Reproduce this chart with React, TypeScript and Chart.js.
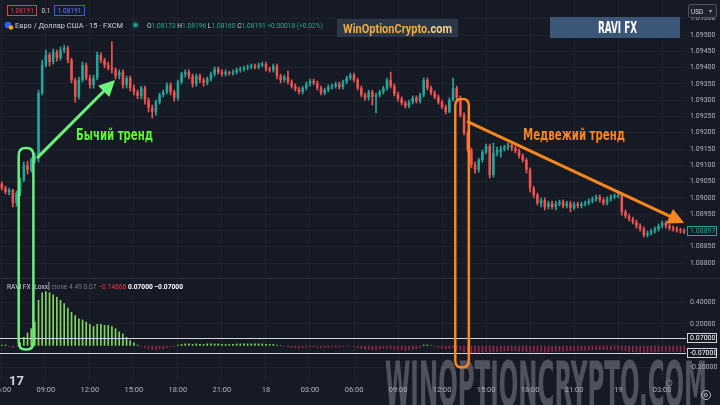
import React, { useEffect, useRef } from "react";
import { Chart, registerables } from "chart.js";

Chart.register(...registerables);

// ---------------- data (EUR/USD, 15-min candles) ----------------
const opens = [
  1.09043, 1.09030, 1.09018, 1.09024, 1.08984, 1.09015, 1.09055, 1.09101, 1.09086, 1.09116,
  1.09122, 1.09322, 1.09408, 1.09439, 1.09417, 1.09448, 1.09429, 1.09454, 1.09460, 1.09423,
  1.09362, 1.09310, 1.09362, 1.09408, 1.09368, 1.09347, 1.09368, 1.09439, 1.09423, 1.09408,
  1.09399, 1.09393, 1.09374, 1.09386, 1.09347, 1.09368, 1.09337, 1.09325, 1.09313, 1.09337,
  1.09300, 1.09276, 1.09264, 1.09294, 1.09316, 1.09325, 1.09347, 1.09325, 1.09307, 1.09356,
  1.09380, 1.09386, 1.09374, 1.09350, 1.09374, 1.09362, 1.09353, 1.09365, 1.09380, 1.09396,
  1.09386, 1.09380, 1.09386, 1.09383, 1.09386, 1.09393, 1.09396, 1.09399, 1.09402, 1.09405,
  1.09402, 1.09408, 1.09411, 1.09396, 1.09393, 1.09405, 1.09374, 1.09362, 1.09371, 1.09356,
  1.09343, 1.09334, 1.09325, 1.09337, 1.09350, 1.09359, 1.09353, 1.09337, 1.09322, 1.09331,
  1.09340, 1.09343, 1.09350, 1.09340, 1.09356, 1.09368, 1.09377, 1.09362, 1.09337, 1.09316,
  1.09307, 1.09325, 1.09310, 1.09316, 1.09325, 1.09337, 1.09362, 1.09343, 1.09319, 1.09304,
  1.09291, 1.09282, 1.09294, 1.09307, 1.09297, 1.09316, 1.09362, 1.09337, 1.09322, 1.09310,
  1.09294, 1.09279, 1.09264, 1.09300, 1.09337, 1.09307, 1.09254, 1.09199, 1.09147, 1.09101,
  1.09086, 1.09116, 1.09141, 1.09159, 1.09070, 1.09138, 1.09141, 1.09150, 1.09156, 1.09162,
  1.09153, 1.09144, 1.09129, 1.09116, 1.09086, 1.09030, 1.09009, 1.08984, 1.08993, 1.08972,
  1.08984, 1.08972, 1.08981, 1.08987, 1.08975, 1.08984, 1.08969, 1.08981, 1.08975, 1.08981,
  1.08984, 1.08990, 1.08997, 1.09003, 1.08993, 1.08984, 1.08997, 1.09003, 1.09006, 1.09009,
  1.08957, 1.08944, 1.08935, 1.08926, 1.08914, 1.08904, 1.08886, 1.08892, 1.08898, 1.08904,
  1.08914, 1.08923, 1.08914, 1.08907, 1.08904, 1.08901, 1.08900,
];
const highs = [
  1.09049, 1.09036, 1.09030, 1.09027, 1.09021, 1.09061, 1.09110, 1.09113, 1.09122, 1.09138,
  1.09331, 1.09423, 1.09454, 1.09445, 1.09457, 1.09454, 1.09463, 1.09469, 1.09466, 1.09429,
  1.09368, 1.09371, 1.09417, 1.09414, 1.09377, 1.09377, 1.09448, 1.09445, 1.09429, 1.09417,
  1.09479, 1.09399, 1.09393, 1.09393, 1.09374, 1.09374, 1.09347, 1.09331, 1.09343, 1.09343,
  1.09307, 1.09285, 1.09300, 1.09322, 1.09331, 1.09353, 1.09353, 1.09331, 1.09362, 1.09386,
  1.09393, 1.09393, 1.09380, 1.09380, 1.09380, 1.09368, 1.09371, 1.09386, 1.09402, 1.09402,
  1.09393, 1.09393, 1.09389, 1.09393, 1.09399, 1.09402, 1.09405, 1.09408, 1.09411, 1.09411,
  1.09414, 1.09417, 1.09417, 1.09402, 1.09411, 1.09411, 1.09380, 1.09377, 1.09389, 1.09362,
  1.09350, 1.09340, 1.09343, 1.09356, 1.09365, 1.09365, 1.09359, 1.09343, 1.09337, 1.09347,
  1.09350, 1.09356, 1.09356, 1.09362, 1.09374, 1.09383, 1.09383, 1.09368, 1.09343, 1.09322,
  1.09331, 1.09331, 1.09322, 1.09331, 1.09343, 1.09368, 1.09386, 1.09350, 1.09325, 1.09310,
  1.09297, 1.09300, 1.09313, 1.09313, 1.09322, 1.09368, 1.09368, 1.09343, 1.09328, 1.09316,
  1.09300, 1.09285, 1.09307, 1.09368, 1.09343, 1.09313, 1.09261, 1.09205, 1.09153, 1.09110,
  1.09122, 1.09147, 1.09165, 1.09165, 1.09168, 1.09156, 1.09159, 1.09162, 1.09168, 1.09165,
  1.09159, 1.09150, 1.09135, 1.09122, 1.09092, 1.09036, 1.09015, 1.09000, 1.09000, 1.08990,
  1.08990, 1.08990, 1.08993, 1.08993, 1.08990, 1.08990, 1.08987, 1.08987, 1.08987, 1.08990,
  1.08997, 1.09003, 1.09009, 1.09009, 1.09000, 1.09003, 1.09009, 1.09012, 1.09015, 1.09012,
  1.08963, 1.08950, 1.08941, 1.08932, 1.08920, 1.08911, 1.08898, 1.08904, 1.08911, 1.08920,
  1.08929, 1.08929, 1.08920, 1.08914, 1.08911, 1.08907, 1.08905,
];
const lows = [
  1.09024, 1.09012, 1.09009, 1.08972, 1.08975, 1.09006, 1.09049, 1.09073, 1.09079, 1.09107,
  1.09110, 1.09316, 1.09402, 1.09405, 1.09411, 1.09420, 1.09423, 1.09445, 1.09414, 1.09353,
  1.09294, 1.09304, 1.09356, 1.09362, 1.09337, 1.09337, 1.09362, 1.09414, 1.09399, 1.09393,
  1.09383, 1.09365, 1.09365, 1.09337, 1.09337, 1.09328, 1.09316, 1.09304, 1.09304, 1.09288,
  1.09264, 1.09245, 1.09254, 1.09288, 1.09310, 1.09319, 1.09316, 1.09297, 1.09300, 1.09350,
  1.09371, 1.09365, 1.09340, 1.09343, 1.09353, 1.09343, 1.09347, 1.09359, 1.09374, 1.09380,
  1.09374, 1.09374, 1.09377, 1.09377, 1.09380, 1.09386, 1.09389, 1.09393, 1.09396, 1.09396,
  1.09396, 1.09402, 1.09389, 1.09386, 1.09386, 1.09365, 1.09353, 1.09356, 1.09350, 1.09337,
  1.09328, 1.09319, 1.09319, 1.09331, 1.09343, 1.09347, 1.09331, 1.09316, 1.09316, 1.09325,
  1.09334, 1.09337, 1.09334, 1.09334, 1.09350, 1.09362, 1.09356, 1.09331, 1.09310, 1.09300,
  1.09300, 1.09285, 1.09261, 1.09310, 1.09319, 1.09331, 1.09337, 1.09313, 1.09297, 1.09285,
  1.09276, 1.09276, 1.09288, 1.09291, 1.09291, 1.09310, 1.09331, 1.09316, 1.09304, 1.09288,
  1.09273, 1.09257, 1.09261, 1.09297, 1.09300, 1.09248, 1.09193, 1.09141, 1.09092, 1.09076,
  1.09079, 1.09110, 1.09135, 1.09061, 1.09064, 1.09129, 1.09125, 1.09144, 1.09147, 1.09144,
  1.09138, 1.09122, 1.09110, 1.09076, 1.09018, 1.09000, 1.08978, 1.08972, 1.08963, 1.08966,
  1.08966, 1.08963, 1.08975, 1.08969, 1.08969, 1.08957, 1.08963, 1.08969, 1.08969, 1.08975,
  1.08978, 1.08984, 1.08990, 1.08987, 1.08978, 1.08978, 1.08990, 1.08997, 1.09000, 1.08947,
  1.08938, 1.08929, 1.08920, 1.08907, 1.08898, 1.08880, 1.08880, 1.08886, 1.08892, 1.08898,
  1.08907, 1.08907, 1.08901, 1.08898, 1.08895, 1.08892, 1.08890,
];
const closes = [
  1.09030, 1.09018, 1.09024, 1.08984, 1.09015, 1.09055, 1.09101, 1.09086, 1.09116, 1.09129,
  1.09322, 1.09408, 1.09439, 1.09417, 1.09448, 1.09429, 1.09454, 1.09460, 1.09423, 1.09362,
  1.09310, 1.09362, 1.09408, 1.09368, 1.09347, 1.09368, 1.09439, 1.09423, 1.09408, 1.09399,
  1.09393, 1.09374, 1.09386, 1.09347, 1.09368, 1.09337, 1.09325, 1.09313, 1.09337, 1.09300,
  1.09276, 1.09264, 1.09294, 1.09316, 1.09325, 1.09347, 1.09325, 1.09307, 1.09356, 1.09380,
  1.09386, 1.09374, 1.09350, 1.09374, 1.09362, 1.09353, 1.09365, 1.09380, 1.09396, 1.09386,
  1.09380, 1.09386, 1.09383, 1.09386, 1.09393, 1.09396, 1.09399, 1.09402, 1.09405, 1.09402,
  1.09408, 1.09411, 1.09396, 1.09393, 1.09405, 1.09374, 1.09362, 1.09371, 1.09356, 1.09343,
  1.09334, 1.09325, 1.09337, 1.09350, 1.09359, 1.09353, 1.09337, 1.09322, 1.09331, 1.09340,
  1.09343, 1.09350, 1.09340, 1.09356, 1.09368, 1.09377, 1.09362, 1.09337, 1.09316, 1.09307,
  1.09325, 1.09310, 1.09316, 1.09325, 1.09337, 1.09362, 1.09343, 1.09319, 1.09304, 1.09291,
  1.09282, 1.09294, 1.09307, 1.09297, 1.09316, 1.09362, 1.09337, 1.09322, 1.09310, 1.09294,
  1.09279, 1.09264, 1.09300, 1.09337, 1.09307, 1.09254, 1.09199, 1.09147, 1.09101, 1.09086,
  1.09116, 1.09141, 1.09159, 1.09070, 1.09138, 1.09147, 1.09150, 1.09156, 1.09162, 1.09153,
  1.09144, 1.09129, 1.09116, 1.09086, 1.09030, 1.09009, 1.08984, 1.08993, 1.08972, 1.08984,
  1.08972, 1.08981, 1.08987, 1.08975, 1.08984, 1.08969, 1.08981, 1.08975, 1.08981, 1.08984,
  1.08990, 1.08997, 1.09003, 1.08993, 1.08984, 1.08997, 1.09003, 1.09006, 1.09009, 1.08957,
  1.08944, 1.08935, 1.08926, 1.08914, 1.08904, 1.08886, 1.08892, 1.08898, 1.08904, 1.08914,
  1.08923, 1.08914, 1.08907, 1.08904, 1.08901, 1.08898, 1.08897,
];
// RAVI FX [Loxx] histogram
const raviValues = [
  0.01, 0.01, -0.01, -0.02, -0.01, 0.03, 0.08, 0.12, 0.16, 0.22,
  0.42, 0.49, 0.50, 0.49, 0.47, 0.45, 0.42, 0.39, 0.35, 0.31,
  0.28, 0.25, 0.24, 0.22, 0.20, 0.18, 0.20, 0.20, 0.19, 0.19,
  0.18, 0.16, 0.13, 0.11, 0.08, 0.05, 0.03, 0.01, -0.01, -0.02,
  -0.03, -0.04, -0.04, -0.03, -0.03, -0.02, -0.01, -0.01, 0.01, 0.015,
  0.02, 0.02, 0.015, 0.02, 0.015, 0.015, 0.02, 0.02, 0.02, 0.02,
  0.015, 0.015, 0.015, 0.015, 0.02, 0.02, 0.02, 0.02, 0.02, 0.02,
  0.02, 0.02, 0.015, 0.015, 0.015, 0.01, 0.005, -0.01, -0.015, -0.02,
  -0.02, -0.025, -0.02, -0.02, -0.015, -0.015, -0.02, -0.02, -0.02, -0.02,
  -0.015, -0.015, -0.015, -0.01, -0.01, -0.005, -0.01, -0.02, -0.03, -0.035,
  -0.035, -0.04, -0.04, -0.035, -0.03, -0.025, -0.03, -0.035, -0.04, -0.04,
  -0.045, -0.04, -0.035, -0.03, -0.02, 0.01, 0.01, 0.005, -0.01, -0.02,
  -0.03, -0.035, -0.03, -0.02, -0.03, -0.045, -0.06, -0.065, -0.07, -0.07,
  -0.068, -0.065, -0.06, -0.065, -0.06, -0.058, -0.055, -0.052, -0.05, -0.05,
  -0.05, -0.052, -0.055, -0.058, -0.062, -0.063, -0.065, -0.063, -0.062, -0.06,
  -0.058, -0.056, -0.054, -0.052, -0.05, -0.05, -0.048, -0.046, -0.045, -0.044,
  -0.042, -0.04, -0.038, -0.038, -0.04, -0.04, -0.038, -0.036, -0.035, -0.045,
  -0.05, -0.055, -0.058, -0.06, -0.062, -0.065, -0.064, -0.062, -0.06, -0.058,
  -0.055, -0.054, -0.054, -0.055, -0.055, -0.056, -0.056,
];
const timeTickLabels = ["06:00", "09:00", "12:00", "15:00", "18:00", "21:00", "18", "03:00", "06:00", "09:00", "12:00", "15:00", "18:00", "21:00", "19", "03:00"];
const TICK_EVERY = 12;
const priceTicks = [1.088, 1.0885, 1.089, 1.0895, 1.09, 1.0905, 1.091, 1.0915, 1.092, 1.0925, 1.093, 1.0935, 1.094, 1.0945, 1.095, 1.0955];
const raviTicks = [0.4, 0.2, -0.2];
const raviLevels = [0.07, -0.07];
const lastPrice = 1.08897;

// annotation anchors: candle index / price / indicator value
const bullBox = { from: 4.6, to: 8.6, top: 1.09153, bottom: -0.035 };
const bearBox = { from: 123.6, to: 127.3, top: 1.09304, bottom: -0.2 };
const bullArrow = { x1: 9.85, y1: 1.09125, x2: 30.85, y2: 1.09362 };
const bearArrow = { x1: 127.1, y1: 1.09233, x2: 186.0, y2: 1.08923 };

// ---------------- styling ----------------
const BG = "#161a25";
const GRID = "#1e222d";
const AXIS_TEXT = "#b2b5be";
const UP = "#26a69a";
const DOWN = "#ef5350";
const IND_UP = "#82d65c";
const IND_DOWN = "#952449";
const BULL = "#6ef07a";
const BEAR = "#f7861f";
const PANE_SPLIT = 278;
const AXIS_W = 34;
const FONT = "Roboto, 'Noto Sans', sans-serif";
const NARROW = "'Liberation Sans Narrow', 'DejaVu Sans Condensed', 'Roboto', sans-serif";

const labels = opens.map((_, i) => i);
const isUp = (i: number) => closes[i] >= opens[i];

function roundRectPath(ctx: CanvasRenderingContext2D, x: number, y: number, w: number, h: number, r: number) {
  ctx.beginPath();
  ctx.moveTo(x + r, y);
  ctx.lineTo(x + w - r, y);
  ctx.quadraticCurveTo(x + w, y, x + w, y + r);
  ctx.lineTo(x + w, y + h - r);
  ctx.quadraticCurveTo(x + w, y + h, x + w - r, y + h);
  ctx.lineTo(x + r, y + h);
  ctx.quadraticCurveTo(x, y + h, x, y + h - r);
  ctx.lineTo(x, y + r);
  ctx.quadraticCurveTo(x, y, x + r, y);
  ctx.closePath();
}

function drawArrow(ctx: CanvasRenderingContext2D, x1: number, y1: number, x2: number, y2: number, color: string, lw: number, headLen: number, headW: number) {
  const a = Math.atan2(y2 - y1, x2 - x1);
  const bx = x2 - headLen * Math.cos(a);
  const by = y2 - headLen * Math.sin(a);
  ctx.strokeStyle = color;
  ctx.lineWidth = lw;
  ctx.lineCap = "round";
  ctx.beginPath();
  ctx.moveTo(x1, y1);
  ctx.lineTo(bx, by);
  ctx.stroke();
  ctx.fillStyle = color;
  ctx.beginPath();
  ctx.moveTo(x2, y2);
  ctx.lineTo(bx + headW * Math.sin(a), by - headW * Math.cos(a));
  ctx.lineTo(bx - headW * Math.sin(a), by + headW * Math.cos(a));
  ctx.closePath();
  ctx.fill();
}

const levelPlugin = {
  id: "raviLevels",
  afterDatasetsDraw(chart: any) {
    const { ctx, chartArea, scales } = chart;
    ctx.save();
    ctx.strokeStyle = "#d1d4dc";
    ctx.lineWidth = 1;
    raviLevels.forEach((v) => {
      const y = Math.round(scales.y.getPixelForValue(v)) + 0.5;
      ctx.beginPath();
      ctx.moveTo(chartArea.left, y);
      ctx.lineTo(chartArea.right, y);
      ctx.stroke();
    });
    ctx.restore();
  },
  afterDraw(chart: any) {
    const { ctx, chartArea, scales } = chart;
    ctx.save();
    ctx.font = `7px ${FONT}`;
    ctx.textBaseline = "middle";
    raviLevels.forEach((v) => {
      const y = Math.round(scales.y.getPixelForValue(v));
      const x = chartArea.right + 1;
      ctx.fillStyle = BG;
      ctx.fillRect(x, y - 5, 30, 10);
      ctx.strokeStyle = "#d1d4dc";
      ctx.strokeRect(x + 0.5, y - 4.5, 29, 9);
      ctx.fillStyle = "#ffffff";
      ctx.fillText(v.toFixed(5), x + 3, y + 0.5);
    });
    ctx.restore();
  },
};

function makeAnnotationPlugin(getInd: () => any) {
  return {
    id: "annotations",
    afterDraw(chart: any) {
      const { ctx, scales } = chart;
      const xs = scales.x;
      const ys = scales.y;
      const ind = getInd();
      const iy = (v: number) => PANE_SPLIT + ind.scales.y.getPixelForValue(v);
      ctx.save();
      // pane separator
      ctx.strokeStyle = "#2a2e39";
      ctx.lineWidth = 1;
      ctx.beginPath();
      ctx.moveTo(0, PANE_SPLIT + 0.5);
      ctx.lineTo(720, PANE_SPLIT + 0.5);
      ctx.stroke();
      // last price tag
      const ly = Math.round(ys.getPixelForValue(lastPrice));
      const lx = chart.chartArea.right + 1;
      ctx.fillStyle = BG;
      ctx.fillRect(lx, ly - 5, 30, 10);
      ctx.strokeStyle = UP;
      ctx.strokeRect(lx + 0.5, ly - 4.5, 29, 9);
      ctx.fillStyle = UP;
      ctx.font = `7px ${FONT}`;
      ctx.textBaseline = "middle";
      ctx.fillText(lastPrice.toFixed(5), lx + 3, ly + 0.5);
      // boxes
      const boxes: [any, string][] = [[bullBox, BULL], [bearBox, BEAR]];
      boxes.forEach(([b, col]) => {
        const x1 = xs.getPixelForValue(b.from);
        const x2 = xs.getPixelForValue(b.to);
        const y1 = ys.getPixelForValue(b.top);
        const y2 = iy(b.bottom);
        ctx.strokeStyle = col;
        ctx.lineWidth = 2.5;
        roundRectPath(ctx, x1, y1, x2 - x1, y2 - y1, 7);
        ctx.stroke();
      });
      // arrows
      drawArrow(ctx, xs.getPixelForValue(bullArrow.x1), ys.getPixelForValue(bullArrow.y1), xs.getPixelForValue(bullArrow.x2), ys.getPixelForValue(bullArrow.y2), BULL, 3, 16, 8);
      drawArrow(ctx, xs.getPixelForValue(bearArrow.x1), ys.getPixelForValue(bearArrow.y1), xs.getPixelForValue(bearArrow.x2), ys.getPixelForValue(bearArrow.y2), BEAR, 3, 16, 8);
      ctx.restore();
    },
  };
}

export default function App() {
  const mainRef = useRef<HTMLCanvasElement>(null);
  const indRef = useRef<HTMLCanvasElement>(null);

  useEffect(() => {
    const ind = new Chart(indRef.current as HTMLCanvasElement, {
      type: "bar",
      data: {
        labels,
        datasets: [
          {
            data: raviValues,
            backgroundColor: (c: any) => (raviValues[c.dataIndex] >= 0 ? IND_UP : IND_DOWN),
            barPercentage: 0.45,
            categoryPercentage: 1,
            borderWidth: 0,
          },
        ],
      },
      options: {
        animation: false,
        responsive: false,
        devicePixelRatio: 1,
        layout: { padding: { top: 2, bottom: 5, left: 0, right: 0 } },
        plugins: { legend: { display: false }, tooltip: { enabled: false } },
        scales: {
          x: {
            offset: true,
            border: { display: false },
            grid: { offset: false, drawTicks: false, color: GRID },
            ticks: {
              autoSkip: false,
              maxRotation: 0,
              minRotation: 0,
              padding: 5,
              color: AXIS_TEXT,
              font: { size: 7.5, family: FONT },
              callback: (_v: any, i: number) => (i % TICK_EVERY === 0 ? timeTickLabels[i / TICK_EVERY] : null),
            },
            afterFit: (s: any) => {
              s.paddingLeft = 0;
              s.paddingRight = 0;
            },
          },
          y: {
            position: "right",
            min: -0.324,
            max: 0.604,
            border: { display: false },
            grid: { drawTicks: false, color: GRID },
            ticks: { padding: 4, color: AXIS_TEXT, font: { size: 7, family: FONT }, callback: (v: any) => Number(v).toFixed(5) },
            afterBuildTicks: (s: any) => {
              s.ticks = raviTicks.map((value) => ({ value }));
            },
            afterFit: (s: any) => {
              s.width = AXIS_W;
              s.paddingTop = 0;
              s.paddingBottom = 0;
            },
          },
        },
      },
      plugins: [levelPlugin],
    } as any);

    const main = new Chart(mainRef.current as HTMLCanvasElement, {
      type: "bar",
      data: {
        labels,
        datasets: [
          {
            data: opens.map((o, i) => [o, closes[i]]),
            backgroundColor: (c: any) => (isUp(c.dataIndex) ? UP : DOWN),
            barPercentage: 0.7,
            categoryPercentage: 1,
            grouped: false,
            minBarLength: 1,
            borderWidth: 0,
            order: 0,
          },
          {
            data: lows.map((l, i) => [l, highs[i]]),
            backgroundColor: (c: any) => (isUp(c.dataIndex) ? UP : DOWN),
            barThickness: 1,
            grouped: false,
            borderWidth: 0,
            order: 1,
          },
        ],
      },
      options: {
        animation: false,
        responsive: false,
        devicePixelRatio: 1,
        layout: { padding: { top: 0, bottom: 405 - PANE_SPLIT, left: 0, right: 0 } },
        plugins: { legend: { display: false }, tooltip: { enabled: false } },
        scales: {
          x: {
            offset: true,
            border: { display: false },
            grid: {
              offset: false,
              drawTicks: false,
              color: (c: any) => (c.index % TICK_EVERY === 0 ? GRID : "rgba(0,0,0,0)"),
            },
            ticks: { display: false, autoSkip: false },
            afterFit: (s: any) => {
              s.paddingLeft = 0;
              s.paddingRight = 0;
              s.height = 0;
            },
          },
          y: {
            position: "right",
            min: 1.08754,
            max: 1.096075,
            border: { display: false },
            grid: { drawTicks: false, color: GRID },
            ticks: { padding: 4, color: AXIS_TEXT, font: { size: 7, family: FONT }, callback: (v: any) => Number(v).toFixed(5) },
            afterBuildTicks: (s: any) => {
              s.ticks = priceTicks.map((value) => ({ value }));
            },
            afterFit: (s: any) => {
              s.width = AXIS_W;
              s.paddingTop = 0;
              s.paddingBottom = 0;
            },
          },
        },
      },
      plugins: [makeAnnotationPlugin(() => ind)],
    } as any);

    return () => {
      main.destroy();
      ind.destroy();
    };
  }, []);

  const abs: React.CSSProperties = { position: "absolute", left: 0, top: 0 };

  return (
    <div style={{ position: "absolute", left: 0, top: 0, width: 720, height: 405, background: BG, overflow: "hidden", fontFamily: FONT }}>
      <canvas ref={indRef} width={720} height={405 - PANE_SPLIT} style={{ position: "absolute", left: 0, top: PANE_SPLIT, width: 720, height: 405 - PANE_SPLIT }} />
      <svg width={720} height={405} style={abs}>
        {/* watermark */}
        <text x={385} y={406} fontFamily={NARROW} fontWeight={700} fontSize={62} fill="#a4a7ae" fillOpacity={0.4} textLength={322} lengthAdjust="spacingAndGlyphs">WINOPTIONCRYPTO.COM</text>
        {/* indicator header */}
        <text x={7} y={289} fontSize={7} textLength={176} lengthAdjust="spacingAndGlyphs">
          <tspan fill="#d1d4dc">RAVI FX [Loxx]</tspan>
          <tspan fill="#787b86"> close 4 49 0.07 </tspan>
          <tspan fill="#f23645">−0.14866 </tspan>
          <tspan fill="#ffffff" fontWeight={700}>0.07000 −0.07000</tspan>
        </text>
        {/* logo */}
        <text x={9} y={385} fontSize={13} fontWeight={700} fill="#d1d4dc">17</text>
      </svg>
      <canvas ref={mainRef} width={720} height={405} style={{ position: "absolute", left: 0, top: 0, width: 720, height: 405 }} />
      <svg width={720} height={405} style={abs}>
        {/* header */}
        <rect x={7.5} y={5.5} width={29} height={10} fill={BG} stroke="#f23645" />
        <text x={22} y={13} textAnchor="middle" fontSize={6.5} fill="#f23645">1.08191</text>
        <text x={46} y={13} textAnchor="middle" fontSize={6.5} fill="#d1d4dc">0.1</text>
        <rect x={54.5} y={5.5} width={30} height={10} fill={BG} stroke="#2962ff" />
        <text x={69.5} y={13} textAnchor="middle" fontSize={6.5} fill="#5b7cff">1.08191</text>
        <circle cx={8} cy={25} r={3.3} fill="#2962ff" />
        <circle cx={11} cy={27.5} r={2.3} fill="#f7a21b" />
        <text x={15} y={28} fontSize={8} fill="#d1d4dc" textLength={108} lengthAdjust="spacingAndGlyphs">Евро / Доллар США · 15 · FXCM</text>
        <circle cx={135.5} cy={25} r={4} fill="#089981" fillOpacity={0.25} />
        <circle cx={135.5} cy={25} r={2} fill="#22ab94" />
        <text x={147} y={28} fontSize={7} textLength={176} lengthAdjust="spacingAndGlyphs">
          <tspan fill="#d1d4dc">O</tspan><tspan fill="#22ab94">1.08173 </tspan>
          <tspan fill="#d1d4dc">H</tspan><tspan fill="#22ab94">1.08196 </tspan>
          <tspan fill="#d1d4dc">L</tspan><tspan fill="#22ab94">1.08160 </tspan>
          <tspan fill="#d1d4dc">C</tspan><tspan fill="#22ab94">1.08191 +0.00018 (+0.02%)</tspan>
        </text>
        <rect x={337} y={19} width={121} height={18} fill="#2c3848" />
        <text x={343} y={32.5} fontSize={12} fontWeight={700} fill="#f2a93b" textLength={109} lengthAdjust="spacingAndGlyphs">WinOptionCrypto<tspan fill="#f4d08a">.com</tspan></text>
        <rect x={550} y={17} width={130} height={21} fill="#3b5677" />
        <text x={598} y={33} fontSize={15} fontWeight={700} fill="#ffffff" fontFamily={NARROW} textLength={39} lengthAdjust="spacingAndGlyphs">RAVI FX</text>
        {/* trend labels */}
        <text x={76} y={140} fontSize={16} fontWeight={700} fill="#5ef535" fontFamily={NARROW} textLength={77} lengthAdjust="spacingAndGlyphs">Бычий тренд</text>
        <text x={523} y={140} fontSize={16} fontWeight={700} fill="#f7861f" fontFamily={NARROW} textLength={102} lengthAdjust="spacingAndGlyphs">Медвежий тренд</text>
        {/* price-scale controls */}
        <rect x={688.5} y={4.5} width={28} height={13} rx={2} fill="#1e222d" stroke="#50535e" />
        <text x={691} y={13.5} fontSize={6.5} fill="#d1d4dc">USD</text>
        <text x={709} y={13} fontSize={6} fill="#b2b5be">▾</text>
        <circle cx={669} cy={383} r={3} fill="none" stroke="#787b86" strokeWidth={1} />
        <circle cx={706} cy={395} r={4.5} fill="none" stroke="#b2b5be" strokeWidth={1} />
        <circle cx={706} cy={395} r={1.5} fill="none" stroke="#b2b5be" strokeWidth={1} />
      </svg>
    </div>
  );
}
